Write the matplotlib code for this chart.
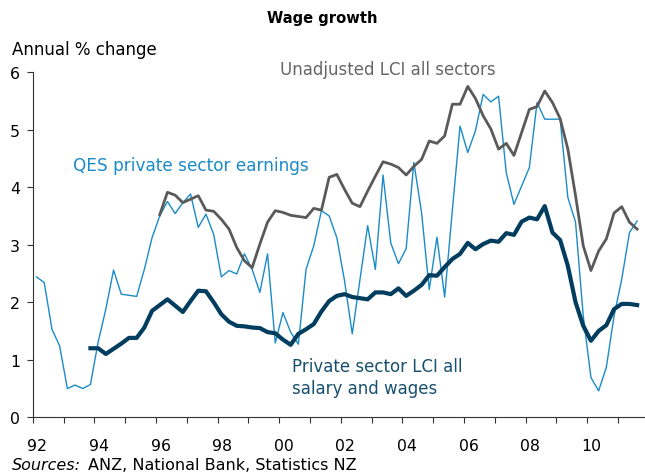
import numpy as np
import matplotlib
matplotlib.use("Agg")
import matplotlib.pyplot as plt

plt.rcParams['font.family'] = ['DejaVu Sans']

# quarterly series, first point 1992 Q1
start = 1992.125
qes = [2.44, 2.34, 1.53, 1.24, 0.50, 0.56, 0.50, 0.57, 1.31, 1.88,
       2.56, 2.14, 2.12, 2.10, 2.57, 3.12, 3.50, 3.75, 3.54, 3.73,
       3.88, 3.30, 3.53, 3.18, 2.44, 2.55, 2.49, 2.84, 2.57, 2.17,
       2.84, 1.29, 1.82, 1.48, 1.27, 2.57, 2.98, 3.59, 3.50, 3.12,
       2.37, 1.45, 2.39, 3.33, 2.57, 4.21, 3.03, 2.67, 2.93, 4.43,
       3.56, 2.22, 3.13, 2.09, 3.60, 5.06, 4.60, 4.98, 5.61, 5.48,
       5.58, 4.25, 3.70, 4.02, 4.34, 5.47, 5.18, 5.18, 5.18, 3.82,
       3.39, 1.76, 0.69, 0.46, 0.87, 1.76, 2.40, 3.21, 3.41]

lci_all_start = 16
lci_all = [3.52, 3.91, 3.86, 3.73, 3.79, 3.85, 3.60, 3.58, 3.44, 3.27,
           2.95, 2.72, 2.60, 3.01, 3.39, 3.59, 3.56, 3.51, 3.49, 3.47,
           3.63, 3.60, 4.17, 4.22, 3.96, 3.72, 3.66, 3.93, 4.19, 4.44,
           4.40, 4.34, 4.21, 4.36, 4.48, 4.80, 4.76, 4.89, 5.44, 5.44,
           5.75, 5.54, 5.24, 5.01, 4.66, 4.76, 4.55, 4.95, 5.35, 5.40,
           5.67, 5.47, 5.19, 4.66, 3.85, 2.98, 2.55, 2.89, 3.10, 3.55,
           3.66, 3.39, 3.27]

lci_priv_start = 7
lci_priv = [1.20, 1.20, 1.10, 1.19, 1.28, 1.38, 1.38, 1.56, 1.85, 1.95,
            2.05, 1.94, 1.83, 2.02, 2.20, 2.19, 2.00, 1.79, 1.66, 1.59,
            1.58, 1.56, 1.55, 1.48, 1.46, 1.35, 1.26, 1.45, 1.53, 1.62,
            1.84, 2.02, 2.11, 2.14, 2.09, 2.07, 2.05, 2.17, 2.17, 2.14,
            2.24, 2.11, 2.20, 2.30, 2.47, 2.46, 2.61, 2.75, 2.84, 3.03,
            2.92, 3.01, 3.07, 3.05, 3.20, 3.17, 3.40, 3.47, 3.44, 3.67,
            3.21, 3.08, 2.63, 2.00, 1.59, 1.33, 1.50, 1.60, 1.88, 1.97,
            1.97, 1.95]

year_labels = ["92", "94", "96", "98", "00", "02", "04", "06", "08", "10"]

def dates(first, n):
    return start + 0.25 * (first + np.arange(n))

c_qes = "#1a8bc9"
c_all = "#5a5a5a"
c_priv = "#003d5e"

fig = plt.figure(figsize=(6.45, 4.77), dpi=100)
ax = fig.add_axes([32.7 / 645, 1 - 418.3 / 477, 616 / 645, 345.3 / 477])

ax.plot(dates(0, len(qes)), qes, color=c_qes, lw=1.0)
ax.plot(dates(lci_all_start, len(lci_all)), lci_all, color=c_all, lw=2.0)
ax.plot(dates(lci_priv_start, len(lci_priv)), lci_priv, color=c_priv, lw=3.0,
        solid_joinstyle="round")

ax.set_xlim(1992, 2012)
ax.set_ylim(0, 6)

for s in ["top", "right"]:
    ax.spines[s].set_visible(False)
for s in ["left", "bottom"]:
    ax.spines[s].set_color("#333333")
    ax.spines[s].set_linewidth(0.8)

ax.set_yticks(range(7))
ax.tick_params(axis="y", direction="out", length=4, width=0.8, color="#333333",
               labelsize=11.3, pad=5)
ax.set_xticks(np.arange(1992, 2012))
ax.set_xticklabels([])
ax.tick_params(axis="x", which="major", direction="out", length=4, width=0.8,
               color="#333333")
ax.set_xticks([1992.15 + 2 * i for i in range(len(year_labels))], year_labels,
              minor=True)
ax.tick_params(axis="x", which="minor", length=0, labelsize=11.3, pad=15)

fig.text(322 / 645, 1 - 19 / 477, "Wage growth", ha="center", va="center",
         fontsize=10.6, fontweight="bold")
fig.text(12 / 645, 1 - 50 / 477, "Annual % change", ha="left", va="center",
         fontsize=12)

fig.text(280 / 645, 1 - 70 / 477, "Unadjusted LCI all sectors", ha="left",
         va="center", fontsize=12, color="#666666")
fig.text(73 / 645, 1 - 166 / 477, "QES private sector earnings", ha="left",
         va="center", fontsize=12.2, color=c_qes)
fig.text(292 / 645, 1 - 378 / 477, "Private sector LCI all\nsalary and wages",
         ha="left", va="center", fontsize=12, color="#17506f", linespacing=1.3)

fig.text(12 / 645, 1 - 466 / 477, "Sources:", ha="left", va="center",
         fontsize=11.5, style="italic")
fig.text(88 / 645, 1 - 466 / 477, "ANZ, National Bank, Statistics NZ",
         ha="left", va="center", fontsize=11.5)

fig.savefig("out.png", dpi=100)
